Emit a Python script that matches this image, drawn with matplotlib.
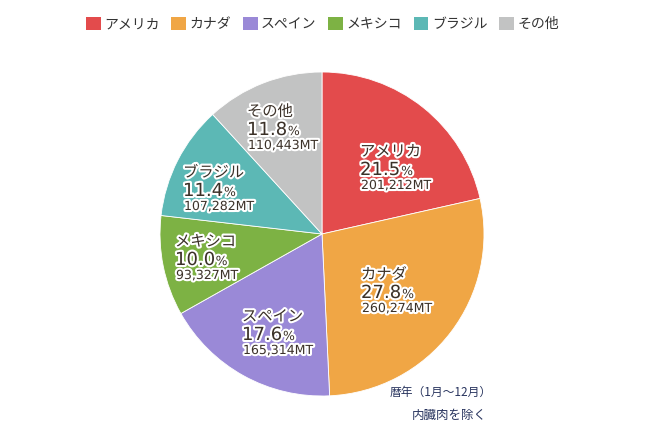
import matplotlib
matplotlib.use("Agg")
import matplotlib.pyplot as plt
import matplotlib.patheffects as pe
from matplotlib.patches import Patch

plt.rcParams['font.family'] = ['Noto Sans CJK JP', 'DejaVu Sans']

countries = ["アメリカ", "カナダ", "スペイン", "メキシコ", "ブラジル", "その他"]
shares = [21.5, 27.8, 17.6, 10.0, 11.4, 11.8]
tonnes = ["201,212MT", "260,274MT", "165,314MT", "93,327MT", "107,282MT", "110,443MT"]
colors = ["#e34b4c", "#f0a645", "#9a89d7", "#7db244", "#5cb8b5", "#c2c3c3"]

# label block layout in pixels (left x, top y of the name line)
label_left = [360, 361, 242, 175, 183, 247]
label_top = [143, 266, 308, 233, 164, 103]

W, H = 650, 440
fig = plt.figure(figsize=(6.5, 4.4), dpi=100)
ax = fig.add_axes([0, 0, 1, 1])

ax.pie(shares, colors=colors, startangle=90, counterclock=False,
       center=(322, H - 234), radius=162,
       wedgeprops=dict(edgecolor="white", linewidth=0.6))
ax.set_xlim(0, W)
ax.set_ylim(0, H)
ax.set_aspect("equal")
ax.axis("off")

txt_color = "#3b3128"
stroke = [pe.withStroke(linewidth=3, foreground="white")]
num_font = "DejaVu Sans"

fig.canvas.draw()
renderer = fig.canvas.get_renderer()

for name, pct, mt, x, t in zip(countries, shares, tonnes, label_left, label_top):
    ax.text(x, H - (t + 13), name, fontsize=11, color=txt_color,
            va="baseline", ha="left", path_effects=stroke)
    num = ax.text(x, H - (t + 32), f"{pct:.1f}", fontsize=13, color=txt_color,
                  family=num_font, va="baseline", ha="left", path_effects=stroke)
    bb = num.get_window_extent(renderer=renderer)
    ax.text(bb.x1 + 1, H - (t + 32), "%", fontsize=9, color=txt_color,
            family=num_font, va="baseline", ha="left", path_effects=stroke)
    ax.text(x + 1, H - (t + 46), mt, fontsize=9, color=txt_color,
            family=num_font, va="baseline", ha="left", path_effects=stroke)

ax.text(492, H - 396, "暦年（1月～12月）", fontsize=8.5, color="#28345e",
        ha="right", va="baseline")
ax.text(487, H - 419, "内臓肉を除く", fontsize=9, color="#28345e",
        ha="right", va="baseline")

handles = [Patch(facecolor=c, edgecolor="none", label=n) for c, n in zip(colors, countries)]
fig.legend(handles=handles, loc="center", bbox_to_anchor=(0.496, 1 - 24 / H),
           ncol=6, frameon=False, fontsize=10, handlelength=1.05, handleheight=1.05,
           handletextpad=0.25, columnspacing=0.85, labelcolor="#333333")

fig.savefig("out.png", dpi=100)
